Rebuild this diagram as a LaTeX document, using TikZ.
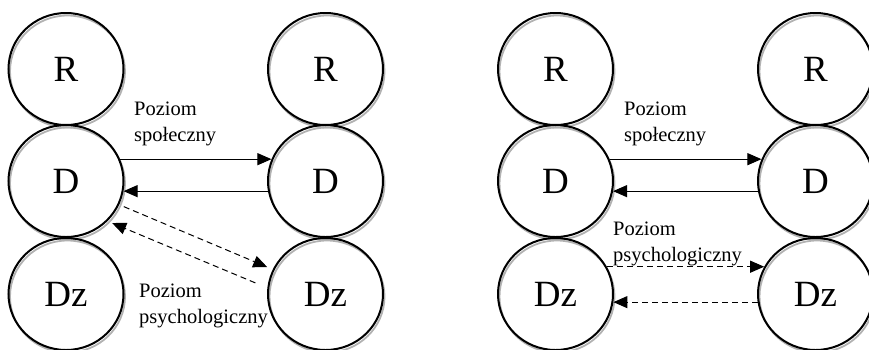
\documentclass[tikz,border=0pt]{standalone}
\usepackage{fontspec}
\setmainfont{Liberation Serif}
\usetikzlibrary{arrows.meta,shapes.geometric,shadows}
\begin{document}
\begin{tikzpicture}[x=1pt,y=-1pt,
  state/.style={ellipse, draw, line width=2pt, minimum width=115pt,
    minimum height=112pt, inner sep=0pt, font=\fontsize{37}{40}\selectfont,
    general shadow={draw=black!30, line width=1.8pt,
      shadow xshift=1.5pt, shadow yshift=-2.5pt}},
  flow/.style={line width=1pt, -{Triangle[length=14pt,width=12pt]}},
  dflow/.style={flow, dash pattern=on 6pt off 4pt},
  lbl/.style={align=left, anchor=base west, inner sep=0pt,
    font=\fontsize{20.5}{25.5}\selectfont}]
\useasboundingbox (0,0) rectangle (869,349);

% left scheme
\node[state] (R1)  at (66,69)    {R};
\node[state] (D1)  at (66,181)   {D};
\node[state] (Z1)  at (66,294)   {Dz};
\node[state] (R2)  at (325.5,69)  {R};
\node[state] (D2)  at (325.5,181) {D};
\node[state] (Z2)  at (325.5,294) {Dz};

\draw[flow] (D1.22) -- (D2.158);
\draw[flow] (D2.190) -- (D1.-10);
\draw[dflow, shorten <=5pt, shorten >=6pt] (D1.-24) -- (Z2.155);
\draw[dflow, shorten <=13pt, shorten >=5pt] (Z2.174) -- (D1.-44);

% labels: anchor sits on the baseline of the second line
\node[lbl] (s1) at (134,141) {Poziom\\społeczny};
\node[lbl] (p1) at (139,323) {Poziom\\psychologiczny};

% right scheme
\node[state] (R3)  at (555.5,69)  {R};
\node[state] (D3)  at (555.5,181) {D};
\node[state] (Z3)  at (555.5,294) {Dz};
\node[state] (R4)  at (815.5,69)  {R};
\node[state] (D4)  at (815.5,181) {D};
\node[state] (Z4)  at (815.5,294) {Dz};

\draw[flow] (D3.22) -- (D4.158);
\draw[flow] (D4.190) -- (D3.-10);
\draw[dflow] (Z3.28) -- (Z4.152);
\draw[dflow] (Z4.188) -- (Z3.-8);

\node[lbl] (s2) at (624,141) {Poziom\\społeczny};
\node[lbl] (p2) at (613,261) {Poziom\\psychologiczny};
\end{tikzpicture}
\end{document}
